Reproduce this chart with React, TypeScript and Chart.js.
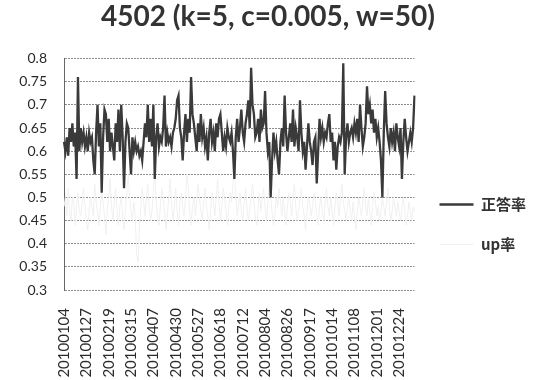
import { useEffect, useRef } from 'react';
import { Chart, registerables } from 'chart.js';

Chart.register(...registerables);

const TITLE = '4502 (k=5, c=0.005, w=50)';
const SERIES_NAMES = ['正答率', 'up率'];
const LABEL_STEP = 16;

const tickLabels = [
  '20100104', '20100127', '20100219', '20100315', '20100407', '20100430',
  '20100527', '20100618', '20100712', '20100804', '20100826', '20100917',
  '20101014', '20101108', '20101201', '20101224',
];

const accuracy = [
  0.62, 0.60, 0.63, 0.59, 0.65, 0.62, 0.66, 0.61, 0.64, 0.54,
  0.76, 0.60, 0.65, 0.62, 0.64, 0.61, 0.63, 0.60, 0.64, 0.62,
  0.63, 0.58, 0.55, 0.64, 0.70, 0.61, 0.66, 0.51, 0.63, 0.69,
  0.68, 0.62, 0.67, 0.60, 0.64, 0.61, 0.58, 0.66, 0.62, 0.69, 0.60,
  0.70, 0.63, 0.52, 0.62, 0.66, 0.65, 0.60, 0.55, 0.63, 0.60,
  0.62, 0.60, 0.61, 0.59, 0.60, 0.58, 0.62, 0.66, 0.63, 0.70,
  0.62, 0.67, 0.61, 0.70, 0.54, 0.63, 0.66, 0.61, 0.63, 0.62, 0.65,
  0.72, 0.61, 0.64, 0.62, 0.63, 0.61, 0.64, 0.65, 0.67, 0.71,
  0.72, 0.65, 0.63, 0.58, 0.64, 0.68, 0.62, 0.67, 0.64, 0.76,
  0.68, 0.66, 0.63, 0.60, 0.66, 0.62, 0.68, 0.63, 0.65, 0.61,
  0.63, 0.58, 0.64, 0.67, 0.62, 0.64, 0.60, 0.66, 0.63, 0.67, 0.68,
  0.64, 0.60, 0.63, 0.61, 0.65, 0.63, 0.62, 0.64, 0.60, 0.54,
  0.63, 0.67, 0.62, 0.65, 0.69, 0.64, 0.62, 0.66, 0.68, 0.71,
  0.65, 0.78, 0.70, 0.68, 0.63, 0.64, 0.67, 0.62, 0.69, 0.65, 0.66,
  0.73, 0.64, 0.60, 0.62, 0.50, 0.58, 0.64, 0.60, 0.62, 0.58,
  0.55, 0.62, 0.65, 0.61, 0.72, 0.64, 0.60, 0.63, 0.66, 0.62,
  0.69, 0.61, 0.65, 0.63, 0.60, 0.71, 0.64, 0.60, 0.62, 0.56,
  0.61, 0.66, 0.62, 0.60, 0.57, 0.62, 0.63, 0.53, 0.60, 0.67, 0.63,
  0.65, 0.62, 0.64, 0.63, 0.66, 0.68, 0.62, 0.64, 0.58, 0.62,
  0.56, 0.61, 0.63, 0.62, 0.64, 0.79, 0.55, 0.63, 0.66, 0.62,
  0.64, 0.65, 0.63, 0.66, 0.64, 0.67, 0.62, 0.70, 0.65, 0.61, 0.63,
  0.66, 0.74, 0.68, 0.70, 0.66, 0.69, 0.64, 0.67, 0.63, 0.65,
  0.62, 0.58, 0.50, 0.64, 0.73, 0.66, 0.63, 0.61, 0.65, 0.62,
  0.64, 0.60, 0.66, 0.63, 0.61, 0.65, 0.54, 0.62, 0.67, 0.63,
  0.60, 0.62, 0.64, 0.62, 0.65, 0.72,
];

const upRate = [
  0.48, 0.50, 0.46, 0.52, 0.47, 0.45, 0.50, 0.49, 0.44, 0.48, 0.51, 0.47,
  0.46, 0.49, 0.52, 0.48, 0.45, 0.43, 0.47, 0.50, 0.48, 0.46, 0.53, 0.49,
  0.47, 0.44, 0.48, 0.51, 0.49, 0.46, 0.42, 0.47, 0.50, 0.54, 0.48, 0.45,
  0.49, 0.52, 0.47, 0.44, 0.48, 0.50, 0.46, 0.43, 0.48, 0.51, 0.55, 0.50,
  0.47, 0.45, 0.49, 0.46, 0.38, 0.36, 0.44, 0.48, 0.52, 0.49, 0.46, 0.50,
  0.53, 0.48, 0.45, 0.47, 0.51, 0.56, 0.49, 0.46, 0.44, 0.48, 0.52, 0.50,
  0.47, 0.43, 0.46, 0.50, 0.54, 0.49, 0.45, 0.48, 0.52, 0.47, 0.44, 0.49,
  0.51, 0.48, 0.46, 0.50, 0.55, 0.52, 0.47, 0.44, 0.48, 0.50, 0.46, 0.49,
  0.53, 0.50, 0.47, 0.45, 0.49, 0.52, 0.48, 0.46, 0.43, 0.47, 0.51, 0.49,
  0.46, 0.50, 0.54, 0.49, 0.45, 0.48, 0.52, 0.50, 0.47, 0.44, 0.48, 0.51,
  0.49, 0.53, 0.56, 0.50, 0.46, 0.48, 0.51, 0.47, 0.45, 0.49, 0.52, 0.48,
  0.45, 0.47, 0.50, 0.53, 0.49, 0.46, 0.44, 0.48, 0.51, 0.47, 0.50, 0.52,
  0.48, 0.45, 0.49, 0.53, 0.50, 0.47, 0.44, 0.46, 0.50, 0.48, 0.52, 0.49,
  0.46, 0.50, 0.47, 0.44, 0.48, 0.51, 0.49, 0.46, 0.50, 0.53, 0.48, 0.45,
  0.47, 0.50, 0.52, 0.48, 0.46, 0.43, 0.47, 0.50, 0.49, 0.46, 0.48, 0.51,
  0.49, 0.46, 0.44, 0.48, 0.50, 0.47, 0.45, 0.49, 0.52, 0.48, 0.46, 0.50,
  0.47, 0.44, 0.48, 0.51, 0.49, 0.46, 0.50, 0.53, 0.49, 0.47, 0.45, 0.48,
  0.50, 0.47, 0.45, 0.49, 0.46, 0.43, 0.47, 0.50, 0.48, 0.46, 0.49, 0.52,
  0.48, 0.46, 0.50, 0.47, 0.44, 0.48, 0.51, 0.49, 0.46, 0.48, 0.45, 0.47,
  0.50, 0.48, 0.46, 0.49, 0.52, 0.48, 0.45, 0.47, 0.50, 0.48, 0.46, 0.49,
  0.47, 0.45, 0.48, 0.50, 0.47, 0.44, 0.46, 0.49, 0.47, 0.45, 0.48, 0.47,
];

const Y_MIN = 0.3;
const Y_MAX = 0.8;
const Y_STEP = 0.05;

export default function App() {
  const ref = useRef<HTMLCanvasElement>(null);

  useEffect(() => {
    if (!ref.current) return;
    const categories = accuracy.map((_, i) =>
      i % LABEL_STEP === 0 && tickLabels[i / LABEL_STEP] ? tickLabels[i / LABEL_STEP] : ''
    );
    const chart = new Chart(ref.current, {
      type: 'line',
      data: {
        labels: categories,
        datasets: [
          {
            label: SERIES_NAMES[0],
            data: accuracy,
            borderColor: '#3a3a3a',
            backgroundColor: '#3a3a3a',
            borderWidth: 2.3,
            pointRadius: 0,
            tension: 0,
            order: 1,
          },
          {
            label: SERIES_NAMES[1],
            data: upRate,
            borderColor: '#f0f0f0',
            backgroundColor: '#f0f0f0',
            borderWidth: 1,
            pointRadius: 0,
            tension: 0,
            order: 2,
          },
        ],
      },
      options: {
        responsive: false,
        animation: false,
        layout: { padding: { left: 0, right: 0, top: 0, bottom: 0 } },
        plugins: {
          title: {
            display: true,
            text: TITLE,
            color: '#333',
            font: { family: 'Lato', size: 28, weight: 'bold' },
            padding: { top: 0, bottom: 25 },
          },
          legend: {
            display: true,
            position: 'right',
            title: { display: true, text: '', padding: 0, font: { size: 10, lineHeight: 6.9 } },
            labels: {
              usePointStyle: true,
              pointStyle: 'line',
              pointStyleWidth: 34,
              padding: 25,
              color: '#333',
              font: { family: "'Noto Sans CJK JP', sans-serif", size: 15, weight: 'bold', lineHeight: 0.53 },
            },
          },
          tooltip: { enabled: false },
        },
        scales: {
          x: {
            type: 'category',
            grid: { display: false, drawTicks: false },
            border: { display: false },
            ticks: {
              autoSkip: false,
              maxRotation: 90,
              minRotation: 90,
              padding: 18,
              color: '#2a2a2a',
              font: { family: 'Lato', size: 15 },
            },
            afterFit: (s: any) => {
              s.height = 90;
            },
          },
          y: {
            min: Y_MIN,
            max: Y_MAX,
            grid: { color: '#8c8c8c', lineWidth: 1, drawTicks: false },
            border: { display: true, color: '#666', width: 1, dash: [2, 1] },
            ticks: {
              stepSize: Y_STEP,
              padding: 17,
              color: '#2a2a2a',
              font: { family: 'Lato', size: 14 },
              callback: (v: any) => String(Number(Number(v).toFixed(2))),
            },
            afterFit: (s: any) => {
              s.width = 64;
            },
          },
        },
      },
    });
    return () => chart.destroy();
  }, []);

  return (
    <canvas
      ref={ref}
      width={536}
      height={380}
      style={{ position: 'absolute', left: 0, top: 0, width: 536, height: 380, background: '#fff' }}
    />
  );
}
